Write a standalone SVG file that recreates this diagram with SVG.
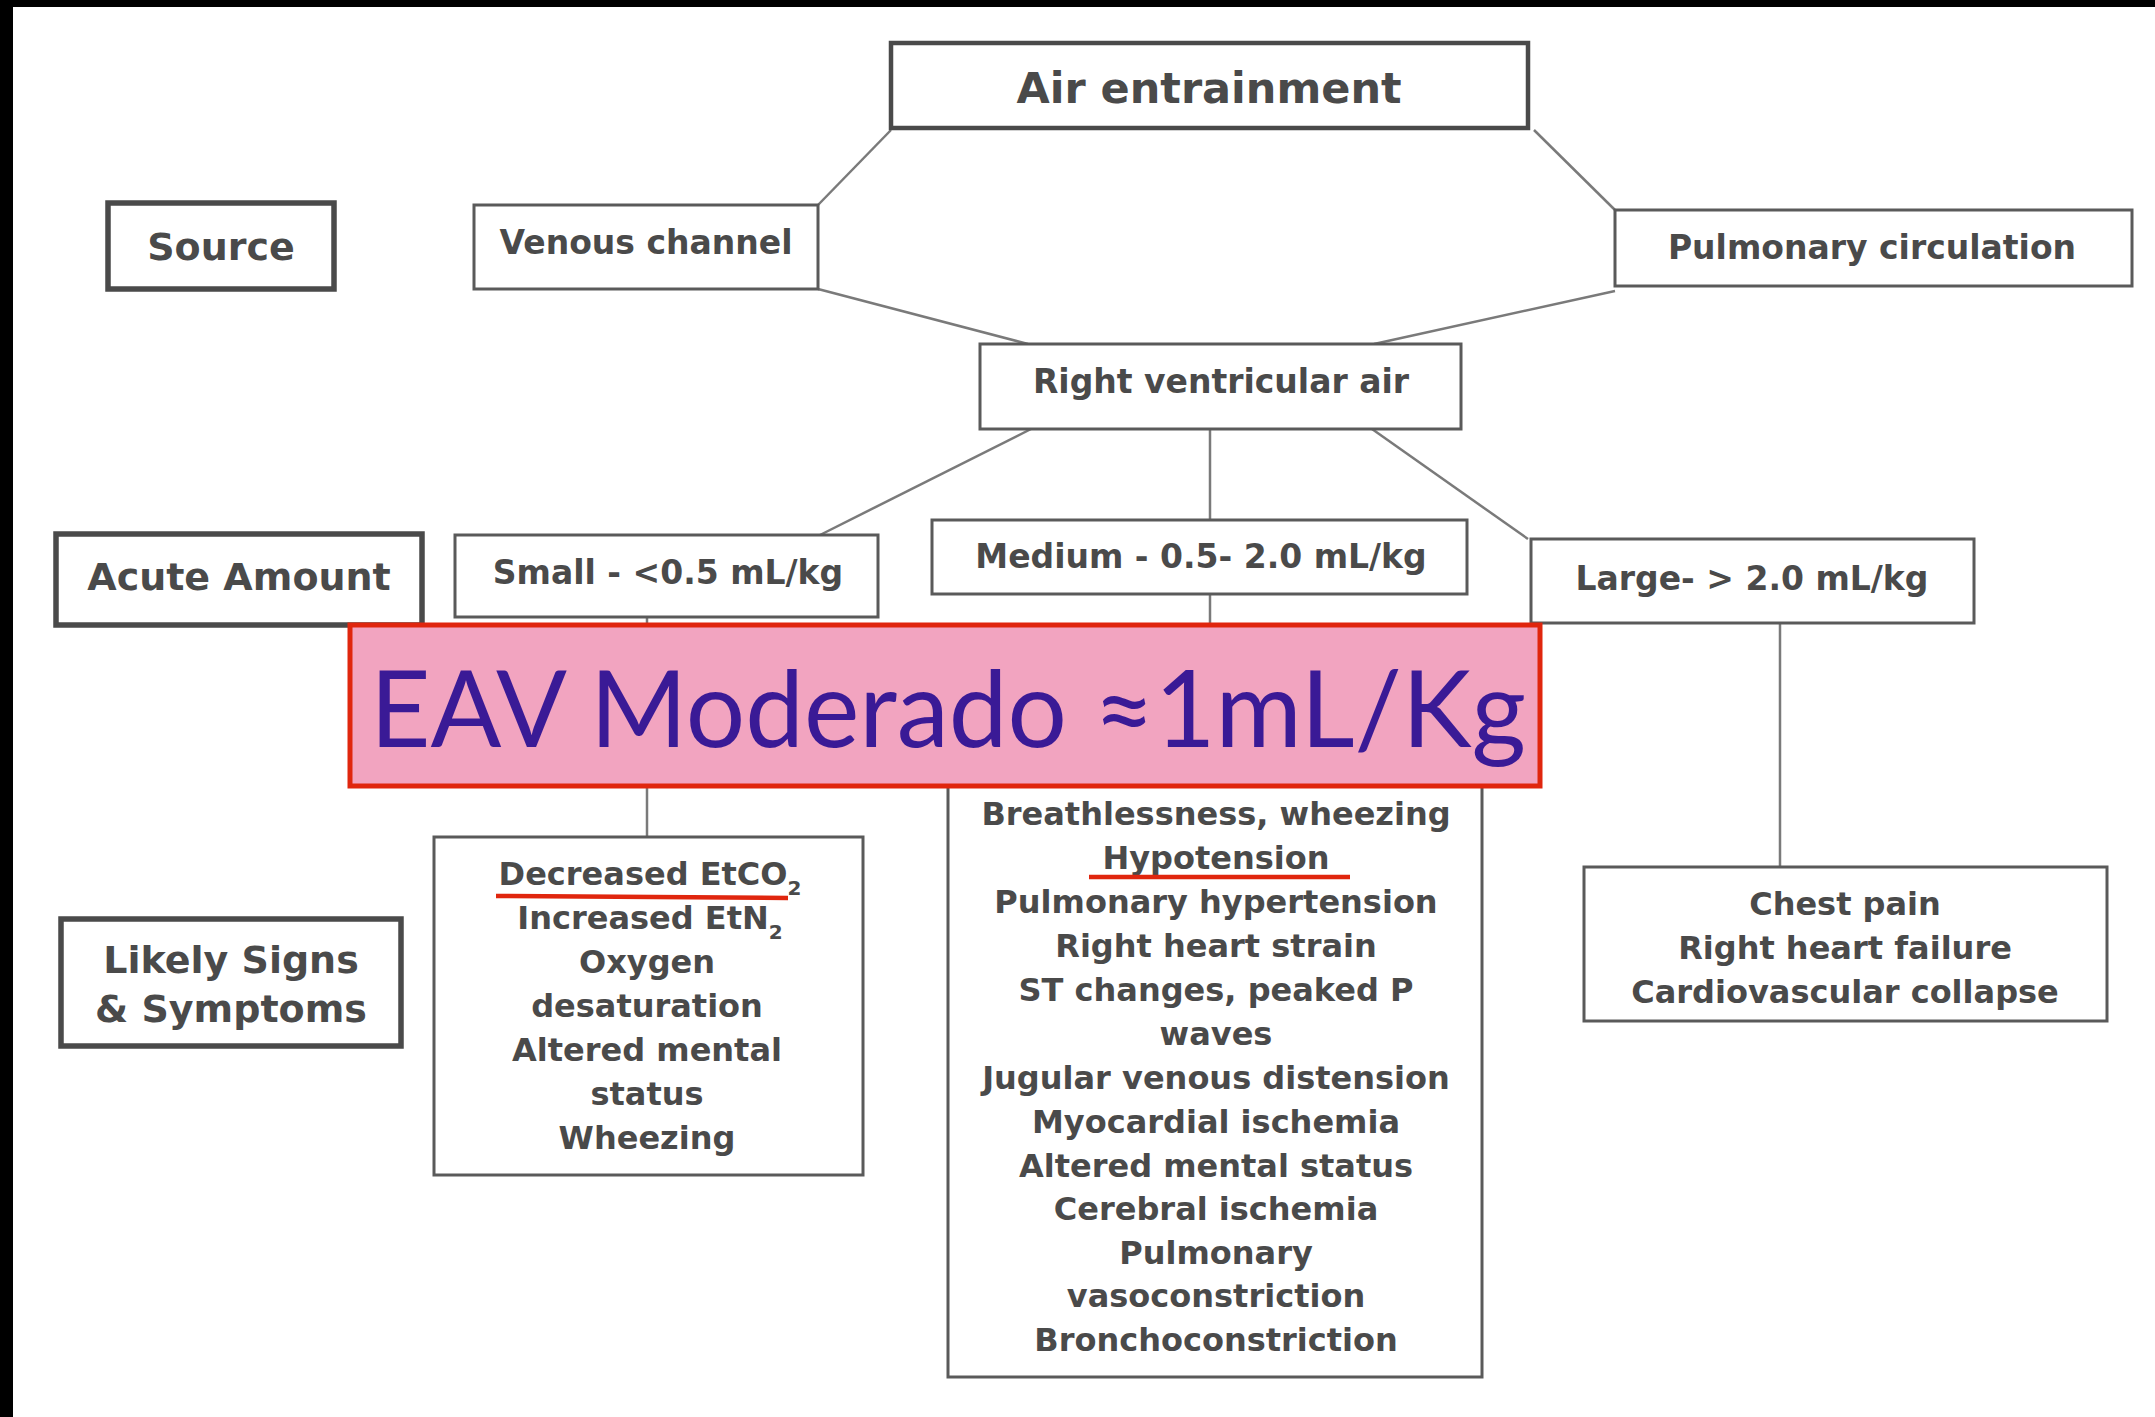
<svg xmlns="http://www.w3.org/2000/svg" width="2155" height="1417" viewBox="0 0 2155 1417">
<defs>
<style>
.bx{fill:#fff;stroke:#5a5a5a;stroke-width:3}
.bxk{fill:#fff;stroke:#4a4a4a;stroke-width:5.5}
.t{font-family:"DejaVu Sans",Verdana,sans-serif;font-weight:bold;fill:#4a4a4a;text-anchor:middle}
.s33{font-size:33px}
.s38{font-size:38px}
.s32{font-size:32px}
.ln{stroke:#7a7a7a;stroke-width:2.5;fill:none}
.ul{stroke:#e0260e;stroke-width:4.5}
</style>
</defs>
<rect x="0" y="0" width="2155" height="1417" fill="#fff"/>
<rect x="0" y="0" width="2155" height="7" fill="#000"/>
<rect x="0" y="0" width="13" height="1417" fill="#000"/>

<g id="connectors">
<line class="ln" x1="891" y1="130" x2="818" y2="205"/>
<line class="ln" x1="1534" y1="130" x2="1615" y2="210"/>
<line class="ln" x1="818" y1="289" x2="1028" y2="344"/>
<line class="ln" x1="1615" y1="291" x2="1374" y2="344"/>
<line class="ln" x1="1031" y1="429" x2="820" y2="535"/>
<line class="ln" x1="1210" y1="429" x2="1210" y2="520"/>
<line class="ln" x1="1372" y1="429" x2="1528" y2="539"/>
<line class="ln" x1="647" y1="617" x2="647" y2="837"/>
<line class="ln" x1="1210" y1="594" x2="1210" y2="770"/>
<line class="ln" x1="1780" y1="623" x2="1780" y2="867"/>
</g>

<g id="air-entrainment">
<rect class="bxk" x="891" y="43" width="637" height="85" style="stroke-width:4.5"/>
<text class="t" x="1209" y="103" style="font-size:43px">Air entrainment</text>
</g>
<g id="source-label">
<rect class="bxk" x="108" y="203" width="226" height="86"/>
<text class="t s38" x="221" y="260">Source</text>
</g>
<g id="venous-channel">
<rect class="bx" x="474" y="205" width="344" height="84"/>
<text class="t s33" x="646" y="254">Venous channel</text>
</g>
<g id="pulmonary-circulation">
<rect class="bx" x="1615" y="210" width="517" height="76"/>
<text class="t s33" x="1872" y="259">Pulmonary circulation</text>
</g>
<g id="right-ventricular-air">
<rect class="bx" x="980" y="344" width="481" height="85"/>
<text class="t s33" x="1221" y="393">Right ventricular air</text>
</g>
<g id="acute-amount-label">
<rect class="bxk" x="56" y="534" width="366" height="91"/>
<text class="t s38" x="239" y="590">Acute Amount</text>
</g>
<g id="small">
<rect class="bx" x="455" y="535" width="423" height="82"/>
<text class="t s33" x="668" y="584">Small - &lt;0.5 mL/kg</text>
</g>
<g id="medium">
<rect class="bx" x="932" y="520" width="535" height="74"/>
<text class="t s33" x="1201" y="568">Medium - 0.5- 2.0 mL/kg</text>
</g>
<g id="large">
<rect class="bx" x="1531" y="539" width="443" height="84"/>
<text class="t s33" x="1752" y="590">Large- &gt; 2.0 mL/kg</text>
</g>
<g id="signs-label">
<rect class="bxk" x="61" y="919" width="340" height="127"/>
<text class="t s38" x="231" y="973">Likely Signs</text>
<text class="t s38" x="231" y="1022">&amp; Symptoms</text>
</g>
<g id="small-symptoms">
<rect class="bx" x="434" y="837" width="429" height="338"/>
<text class="t s32" x="650" y="885">Decreased EtCO<tspan font-size="20" dy="10">2</tspan></text>
<text class="t s32" x="650" y="929">Increased EtN<tspan font-size="20" dy="10">2</tspan></text>
<text class="t s32" x="647" y="973">Oxygen</text>
<text class="t s32" x="647" y="1017">desaturation</text>
<text class="t s32" x="647" y="1061">Altered mental</text>
<text class="t s32" x="647" y="1105">status</text>
<text class="t s32" x="647" y="1149">Wheezing</text>
<line class="ul" x1="496" y1="896" x2="788" y2="898"/>
</g>
<g id="medium-symptoms">
<rect class="bx" x="948" y="770" width="534" height="607"/>
<text class="t s32" x="1216" y="825">Breathlessness, wheezing</text>
<text class="t s32" x="1216" y="869">Hypotension</text>
<text class="t s32" x="1216" y="913">Pulmonary hypertension</text>
<text class="t s32" x="1216" y="957">Right heart strain</text>
<text class="t s32" x="1216" y="1001">ST changes, peaked P</text>
<text class="t s32" x="1216" y="1045">waves</text>
<text class="t s32" x="1216" y="1089">Jugular venous distension</text>
<text class="t s32" x="1216" y="1133">Myocardial ischemia</text>
<text class="t s32" x="1216" y="1177">Altered mental status</text>
<text class="t s32" x="1216" y="1220">Cerebral ischemia</text>
<text class="t s32" x="1216" y="1264">Pulmonary</text>
<text class="t s32" x="1216" y="1307">vasoconstriction</text>
<text class="t s32" x="1216" y="1351">Bronchoconstriction</text>
<line class="ul" x1="1089" y1="877" x2="1350" y2="877"/>
</g>
<g id="large-symptoms">
<rect class="bx" x="1584" y="867" width="523" height="154"/>
<text class="t s32" x="1845" y="915">Chest pain</text>
<text class="t s32" x="1845" y="959">Right heart failure</text>
<text class="t s32" x="1845" y="1003">Cardiovascular collapse</text>
</g>
<g id="eav-overlay">
<rect x="350" y="625" width="1190" height="161" fill="#f2a4c0" stroke="#e0260e" stroke-width="5"/>
<text x="370" y="747" font-family="Lato,'Open Sans',sans-serif" font-size="106" fill="#3a1a96" textLength="1156" lengthAdjust="spacingAndGlyphs">EAV Moderado ≈1mL/Kg</text>
</g>
</svg>
